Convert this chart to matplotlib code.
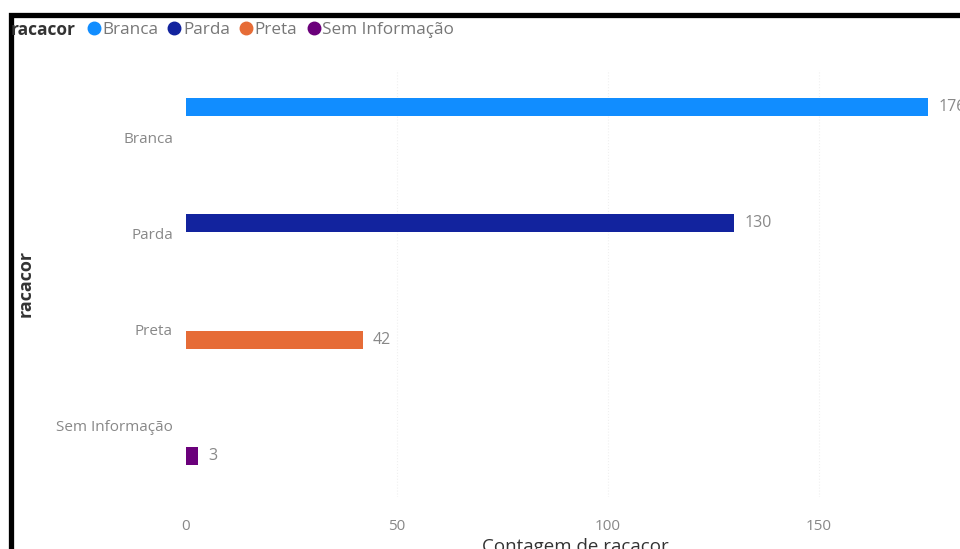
import numpy as np
import matplotlib
matplotlib.use('Agg')
from matplotlib import pyplot as plt
from matplotlib.lines import Line2D
from matplotlib.patches import Rectangle

plt.rcParams['font.family'] = ['Open Sans', 'DejaVu Sans']

categories = ['Branca', 'Parda', 'Preta', 'Sem Informação']
counts = [176, 130, 42, 3]
colors = ['#118DFF', '#12239E', '#E66C37', '#6B007B']
xticks = [0, 50, 100, 150]

W, H = 960, 549


def fx(px):
    return px / W


def fy(py):
    return 1 - py / H


fig = plt.figure(figsize=(W / 100, H / 100), dpi=100)

# plot area in pixels: left 185.5, right 960, top 70, bottom 497
ax = fig.add_axes([fx(185.5), fy(497), fx(960 - 185.5), (497 - 70) / H])
ax.set_xlim(0, (960 - 185.5) / 4.22)
band = 96.3
ax.set_ylim(3 + (497 - 426) / band, (70 - 137) / band)

# clustered bars: each category has one slot per series, only its own is filled
slot = 20 / band
for i, (cat, val, col) in enumerate(zip(categories, counts, colors)):
    y = i + (i - 1.5) * slot
    ax.barh(y, val, height=18 / band, color=col, zorder=3)
    ax.text(val + 10 / 4.22, y, str(val), va='center', ha='left',
            fontsize=11.5, color='#888888')

ax.set_yticks(range(len(categories)))
ax.set_yticklabels(categories)
ax.set_xticks(xticks)
for xt in xticks[1:]:
    ax.axvline(xt, color='#f0f0f0', lw=0.8, ls=':', zorder=1)

ax.tick_params(axis='both', length=0, labelsize=11, labelcolor='#888888')
ax.tick_params(axis='x', pad=16)
ax.tick_params(axis='y', pad=9)
for s in ax.spines.values():
    s.set_visible(False)

fig.text(fx(575), fy(547), 'Contagem de racacor', ha='center', va='center',
         fontsize=13.5, color='#333333')
fig.text(fx(26), fy(283), 'racacor', ha='center', va='center', rotation=90,
         fontsize=13, color='#333333', fontweight='bold')

# legend
fig.text(fx(11), fy(30), 'racacor', ha='left', va='center', fontsize=12.5,
         color='#333333', fontweight='bold')
handles = [Line2D([], [], marker='o', ls='', markersize=9, color=c) for c in colors]
fig.legend(handles, categories, loc='center left', bbox_to_anchor=(fx(86), fy(30)),
           ncol=4, frameon=False, fontsize=12.3, handletextpad=0.05,
           columnspacing=0.5, borderaxespad=0, borderpad=0, handlelength=0.9,
           labelcolor='#777777')

# screenshot frame
fig.patches.append(Rectangle((fx(10.5), -0.1), 1.2, fy(14.5) + 0.1,
                             transform=fig.transFigure, fill=False,
                             edgecolor='black', lw=3.8))

fig.savefig('out.png', dpi=100)
